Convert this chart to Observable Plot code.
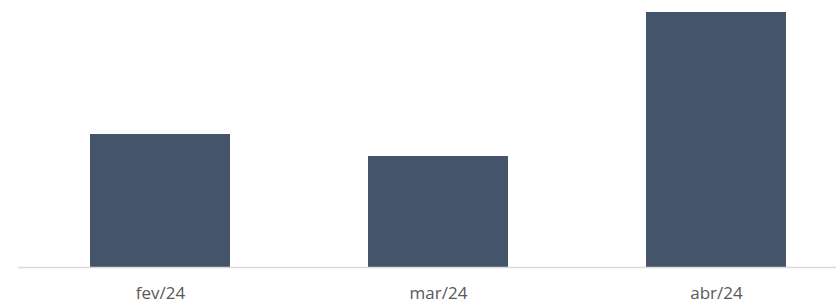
<!DOCTYPE html>
<html>
<head>
<meta charset="utf-8">
<script src="https://cdn.jsdelivr.net/npm/d3@7"></script>
<script src="https://cdn.jsdelivr.net/npm/@observablehq/plot@0.6"></script>
<style>
  html, body { margin: 0; padding: 0; background: #fff; }
  #chart { width: 836px; height: 303px; overflow: hidden; }
</style>
</head>
<body>
<div id="chart"></div>
<script>
const months = ["fev/24", "mar/24", "abr/24"];
const values = [133, 111, 255];

const data = months.map((m, i) => ({month: m, value: values[i]}));

const chart = Plot.plot({
  width: 836,
  height: 303,
  marginTop: 12,
  marginBottom: 36,
  marginLeft: 40,
  marginRight: 0,
  style: {fontFamily: "'Open Sans', sans-serif", background: "#fff", overflow: "visible"},
  x: {domain: months, paddingInner: 0.498, paddingOuter: 0.1756, label: null},
  y: {domain: [0, 255], axis: null},
  marks: [
    Plot.barY(data, {x: "month", y: "value", fill: "#44546A"}),
    Plot.ruleY([0], {stroke: "#d9d9d9", strokeWidth: 1.5, insetLeft: -22}),
    Plot.axisX({tickSize: 0, tickPadding: 19, fontSize: 17, color: "#595959", label: null})
  ]
});
document.getElementById("chart").appendChild(chart);
</script>
</body>
</html>
